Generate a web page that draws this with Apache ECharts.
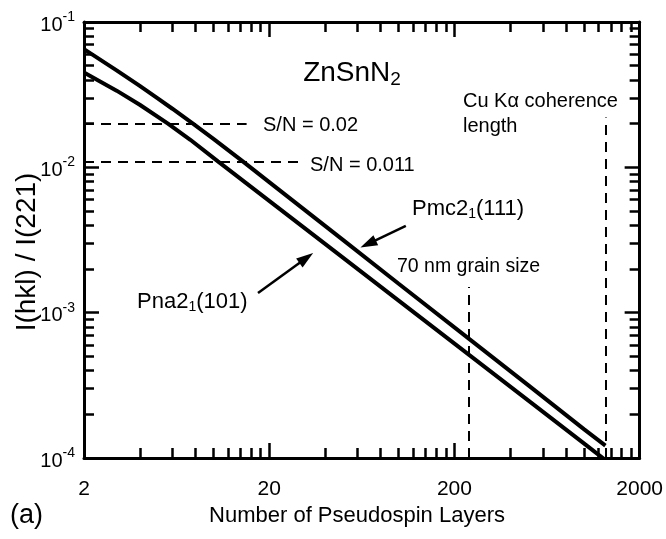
<!DOCTYPE html>
<html><head><meta charset="utf-8">
<script src="https://cdn.jsdelivr.net/npm/echarts@6/dist/echarts.min.js"></script>
<style>html,body{margin:0;padding:0;background:#fff}#c{width:666px;height:539px}</style>
</head><body><div id="c"></div>
<script>
// ---------------- data ----------------
const xTickLabels = [2, 20, 200, 2000];
const yTickExponents = [-4, -3, -2, -1];
const layersPmc = [2, 3, 4, 5, 6, 7.75, 10, 14.4, 20, 50, 100, 240, 500, 1000, 1307];
const ratioPmc = [0.065, 0.0465, 0.0363, 0.0298, 0.0253, 0.020, 0.0157, 0.011, 0.00792, 0.00317, 0.00158, 0.00066, 0.000317, 0.000158, 0.0001216];
const layersPna = [2, 3, 4, 5.68, 7.5, 10.57, 20, 50, 100, 240, 500, 1000, 1307];
const ratioPna = [0.0449, 0.0337, 0.02695, 0.020, 0.01547, 0.011, 0.00588, 0.00239, 0.00121, 0.000512, 0.000249, 0.000126, 0.0000967];
const snLevels = [0.02, 0.011];
const snLineEnds = [15.1, 30];
const markerLayers = [240, 1307];      // 70 nm grain size, Cu K-alpha coherence length
const markerTops = [0.0015, 0.022];
const arrowPmc = [[109.3, 0.00395], [68.4, 0.00297]];
const arrowPna = [[17.4, 0.001366], [31.7, 0.002374]];

// ---------------- setup ----------------
const lg = Math.log10;
const FONT = '"Liberation Sans", Arial, sans-serif';
const BLACK = '#000';
const X0 = lg(xTickLabels[0]), X1 = lg(xTickLabels[xTickLabels.length - 1]);
const Y0 = yTickExponents[0], Y1 = yTickExponents[yTickExponents.length - 1];
const xMajor = xTickLabels.slice(1, -1).map(lg);
const xMinor = [];
for (let i = 0; i < xTickLabels.length - 1; i++) for (let k = 2; k <= 9; k++) xMinor.push(lg(xTickLabels[i] * k));
const yMajor = yTickExponents.slice(1, -1);
const yMinor = [];
for (let i = 0; i < yTickExponents.length - 1; i++) for (let k = 2; k <= 9; k++) yMinor.push(yTickExponents[i] + lg(k));

const MAJ = 15, MIN = 10;
function xAxisDef(position, ticks, len, showLine, showLabels) {
  return {
    type: 'value', position: position, min: X0, max: X1,
    axisLine: { show: showLine, onZero: false, lineStyle: { color: BLACK, width: 3 } },
    axisTick: { show: true, inside: true, length: len, customValues: ticks, lineStyle: { color: BLACK, width: 2.5 } },
    axisLabel: showLabels ? {
      show: true, customValues: xTickLabels.map(lg), margin: 21, color: BLACK, fontSize: 21, fontFamily: FONT,
      formatter: v => String(Math.round(Math.pow(10, v)))
    } : { show: false },
    splitLine: { show: false }
  };
}
function yAxisDef(position, ticks, len, showLine, showLabels) {
  return {
    type: 'value', position: position, min: Y0, max: Y1,
    axisLine: { show: showLine, onZero: false, lineStyle: { color: BLACK, width: 3 } },
    axisTick: { show: true, inside: true, length: len, customValues: ticks, lineStyle: { color: BLACK, width: 2.5 } },
    axisLabel: showLabels ? {
      show: true, customValues: yTickExponents, margin: 9, color: BLACK,
      formatter: v => '{b|10}{s|' + v + '}',
      rich: {
        b: { fontSize: 20, fontFamily: FONT, color: BLACK, padding: [6, 0, 0, 0] },
        s: { fontSize: 14, fontFamily: FONT, color: BLACK, padding: [0, 0, 10, 0] }
      }
    } : { show: false },
    splitLine: { show: false }
  };
}

const toPts = (xs, ys) => xs.map((n, i) => [lg(n), lg(ys[i])]);

const dash = { type: [10, 7], width: 2, color: BLACK };
const markData = [];
snLevels.forEach((lv, i) => {
  markData.push([{ coord: [X0, lg(lv)], lineStyle: dash }, { coord: [lg(snLineEnds[i]), lg(lv)] }]);
});
markerLayers.forEach((n, i) => {
  markData.push([{ coord: [lg(n), Y0], lineStyle: dash }, { coord: [lg(n), lg(markerTops[i])] }]);
});
[arrowPmc, arrowPna].forEach(a => {
  markData.push([
    { coord: [lg(a[0][0]), lg(a[0][1])], symbol: 'none', lineStyle: { type: 'solid', width: 2.5, color: BLACK } },
    { coord: [lg(a[1][0]), lg(a[1][1])], symbol: 'triangle', symbolSize: [11, 17] }
  ]);
});

function txt(x, y, text, size, align) {
  return {
    type: 'text', x: x, y: y, silent: true,
    style: { text: text, fontSize: size, fontFamily: FONT, fill: BLACK, align: align || 'left', verticalAlign: 'middle', textAlign: align || 'left', textVerticalAlign: 'middle' }
  };
}
function richTxt(x, y, text, size, subSize, subPad, align) {
  return {
    type: 'text', x: x, y: y, silent: true,
    style: {
      text: text, fill: BLACK, align: align || 'left', verticalAlign: 'middle',
      textAlign: align || 'left', textVerticalAlign: 'middle',
      rich: {
        m: { fontSize: size, fontFamily: FONT, fill: BLACK },
        s: { fontSize: subSize, fontFamily: FONT, fill: BLACK, padding: [subPad, 0, 0, 0] }
      }
    }
  };
}

const chart = echarts.init(document.getElementById('c'), null, { renderer: 'canvas' });
chart.setOption({
  animation: false,
  backgroundColor: '#fff',
  grid: { left: 84, right: 26, top: 22, bottom: 81, containLabel: false },
  xAxis: [
    xAxisDef('bottom', xMajor, MAJ, true, true),
    xAxisDef('bottom', xMinor, MIN, false, false),
    xAxisDef('top', xMajor, MAJ, true, false),
    xAxisDef('top', xMinor, MIN, false, false)
  ],
  yAxis: [
    yAxisDef('left', yMajor, MAJ, true, true),
    yAxisDef('left', yMinor, MIN, false, false),
    yAxisDef('right', yMajor, MAJ, true, false),
    yAxisDef('right', yMinor, MIN, false, false)
  ],
  series: [
    { name: 'Pmc21(111)', type: 'line', xAxisIndex: 0, yAxisIndex: 0, data: toPts(layersPmc, ratioPmc),
      showSymbol: false, symbol: 'none', clip: true, lineStyle: { color: BLACK, width: 4 }, z: 5 },
    { name: 'Pna21(101)', type: 'line', xAxisIndex: 0, yAxisIndex: 0, data: toPts(layersPna, ratioPna),
      showSymbol: false, symbol: 'none', clip: true, lineStyle: { color: BLACK, width: 4 }, z: 5 },
    { name: 'annot', type: 'line', xAxisIndex: 0, yAxisIndex: 0, data: [],
      markLine: { silent: true, animation: false, symbol: ['none', 'none'], label: { show: false },
        emphasis: { disabled: true }, lineStyle: dash, data: markData } }
  ],
  graphic: [
    richTxt(352, 73, '{m|ZnSnN}{s|2}', 28, 19, 13, 'center'),
    txt(263, 125, 'S/N = 0.02', 20),
    txt(310, 165, 'S/N = 0.011', 20),
    txt(463, 101, 'Cu K\u03b1 coherence', 20),
    txt(463, 126, 'length', 20),
    txt(397, 267, '70 nm grain size', 19.5),
    richTxt(412, 209, '{m|Pmc2}{s|1}{m|(111)}', 22, 14, 11),
    richTxt(137, 302, '{m|Pna2}{s|1}{m|(101)}', 22, 14, 11),
    txt(10, 516, '(a)', 27),
    txt(357, 516, 'Number of Pseudospin Layers', 22, 'center'),
    { type: 'text', x: 27, y: 252, rotation: Math.PI / 2, silent: true,
      style: { text: 'I(hkl) / I(221)', fontSize: 28, fontFamily: FONT, fill: BLACK, align: 'center', verticalAlign: 'middle', textAlign: 'center', textVerticalAlign: 'middle' } }
  ]
});
</script>
</body></html>
